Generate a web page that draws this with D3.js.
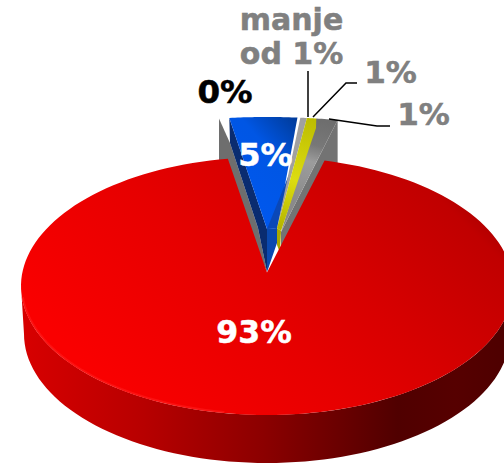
<!DOCTYPE html>
<html><head><meta charset="utf-8">
<script src="https://cdn.jsdelivr.net/npm/d3@7/dist/d3.min.js"></script>
<style>html,body{margin:0;padding:0;background:#fff}svg{display:block}text{font-family:"DejaVu Sans",sans-serif;font-weight:700;stroke-width:.5px}</style>
</head><body><svg id="c" width="504" height="465"></svg>
<script>
// Data (shares are what the slices measure; labels are what the chart prints)
const categories = ["nula", "plavo", "manje od 1%", "zuto", "sivo", "crveno"];
const shares = [0.55, 3.6, 0.5, 0.5, 1.15, 93.7];
const valueLabels = ["0%", "5%", "manje od 1%", "1%", "1%", "93%"];
const labelColors = ["#000000", "#ffffff", "#808080", "#808080", "#808080", "#ffffff"];

const svg = d3.select("#c");
const rad = d => d * Math.PI / 180;
const pie = d3.pie().sort(null).value(d => d).startAngle(rad(-9.15)).endAngle(rad(350.85));
const arcs = pie(shares);

// Geometry
const red = {cx: 267, cy: 286, rx: 246, ry: 129, depth: 48, apex: [267, 272.5]};
const back = {cx: 267, cy: 229, rx: 302, ry: 112, depth: 43};
const pt = (g, a) => [g.cx + g.rx * Math.sin(a), g.cy - g.ry * Math.cos(a)];
const sweep = (g, a0, a1, n = 24) => d3.range(n + 1).map(i => pt(g, a0 + (a1 - a0) * i / n));
const line = d3.line();
const poly = (pts, fill) => svg.append("path").attr("d", line(pts) + "Z").attr("fill", fill);

// Gradients
const defs = svg.append("defs");
function grad(id, x1, y1, x2, y2, stops) {
  const g = defs.append("linearGradient").attr("id", id).attr("gradientUnits", "userSpaceOnUse")
    .attr("x1", x1).attr("y1", y1).attr("x2", x2).attr("y2", y2);
  stops.forEach(s => g.append("stop").attr("offset", s[0]).attr("stop-color", s[1]));
}
grad("redTop", 150, 430, 430, 150, [[0, "#fa0000"], [0.25, "#ee0000"], [0.41, "#e60000"], [0.62, "#d80000"], [0.93, "#c00000"], [1, "#a80000"]]);
grad("redSide", 21, 0, 504, 0, [[0, "#d80000"], [0.25, "#b80000"], [0.5, "#8c0000"], [0.78, "#500000"], [0.9, "#560000"], [1, "#4e0000"]]);
grad("blueTop", 225, 200, 305, 130, [[0, "#0058f0"], [0.62, "#0056e4"], [1, "#003c9c"]]);
grad("greyTop", 310, 118, 290, 200, [[0, "#6e6e6e"], [0.3, "#787878"], [0.5, "#9c9c9c"], [1, "#8a8a8a"]]);
grad("yellowTop", 312, 118, 280, 230, [[0, "#bcbc00"], [0.55, "#dcdc10"], [1, "#b4b400"]]);

// Back slices
const [sl, bl, mn, yl, gr, rd] = arcs;
const T = [back.cx, back.cy], Td = [back.cx, back.cy + back.depth];
const blOut = pt(back, bl.startAngle);

// zero slice: only its cut wall shows
const slOut = pt(back, sl.startAngle);
poly([slOut, [230, 143], [258, 228], Td, [slOut[0], slOut[1] + back.depth]], "#6e6e6e");

// blue slice: cut wall, inner wall, top, bevel
poly([blOut, T, Td, [258, 228], [230, 143]], "#0a2c70");
poly([T, Td, [277, 243], [277, 228]], "#0a49b0");
poly([T, ...sweep(back, bl.startAngle, bl.endAngle), [277, 228]], "url(#blueTop)");
poly([T, [290, 172], [277, 228]], "#0a48b8");

// grey 1% slice
const grApex = [281, 232];
const grOut = pt(back, gr.endAngle);
poly([grApex, grOut, [grOut[0], grOut[1] + back.depth], [281, 246]], "#737373");
poly([grApex, ...sweep(back, yl.endAngle, gr.endAngle, 8)], "url(#greyTop)");

// "manje od 1%" sliver (thin grey band next to the yellow)
const mnApex = [277, 228];
poly([mnApex, ...sweep(back, mn.startAngle + (mn.endAngle - mn.startAngle) * 0.3, mn.endAngle, 4)], "#a0a0a0");

// yellow 1% slice
poly([mnApex, [281, 231], [280, 253], [277, 245]], "#a8a800");
poly([mnApex, ...sweep(back, yl.startAngle, yl.endAngle, 6), [316, 128], [281, 231]], "url(#yellowTop)");

// Red slice: side wall
const sideTop = sweep(red, rad(90), rad(270), 80);
const redBottom = {cx: red.cx, cy: red.cy + red.depth, rx: red.rx - 3, ry: red.ry};
const sideBot = sweep(redBottom, rad(270), rad(90), 80);
poly([...sideTop, ...sideBot], "url(#redSide)");

// Red slice: top face
poly([red.apex, ...sweep(red, rd.startAngle, rd.endAngle, 160)], "url(#redTop)");

// Rim highlight on the front-left edge
svg.append("path").attr("d", line(sweep({...red, rx: red.rx - 1, ry: red.ry - 1}, rad(190), rad(265), 50)))
  .attr("fill", "none").attr("stroke", "#ff1c1c").attr("stroke-width", 2).attr("opacity", 0.6);

// Leader lines
const leaders = [
  [[308, 71], [308, 117]],
  [[357, 83], [346, 83], [313, 117]],
  [[390, 126], [377, 126], [329, 119]]
];
leaders.forEach(l => svg.append("path").attr("d", line(l)).attr("fill", "none").attr("stroke", "#000").attr("stroke-width", 1.5));

// Value labels
const labelPos = [[225, 103], [265.5, 166], [291.5, 64], [390.5, 83], [423.5, 125], [254, 343]];
const labelSize = [32.5, 32, 30, 31, 31, 31.5];
const addText = (t, x, y, i) => svg.append("text").attr("x", x).attr("y", y).attr("text-anchor", "middle")
  .attr("font-size", labelSize[i]).attr("fill", labelColors[i]).attr("stroke", labelColors[i]).text(t);
valueLabels.forEach((t, i) => {
  const [x, y] = labelPos[i];
  if (i === 2) {
    const parts = t.split(" ");
    addText(parts[0], x, y - 34, i);
    addText(parts.slice(1).join(" "), x, y, i);
  } else addText(t, x, y, i);
});
</script></body></html>
